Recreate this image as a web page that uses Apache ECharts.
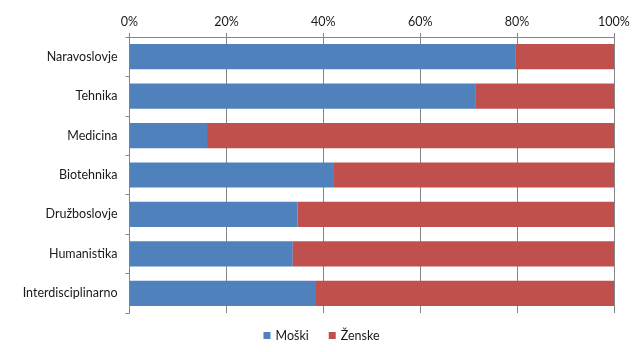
<!DOCTYPE html>
<html>
<head>
<meta charset="utf-8">
<script src="https://cdn.jsdelivr.net/npm/echarts@6/dist/echarts.min.js"></script>
<style>
  html, body { margin: 0; padding: 0; background: #fff; }
  #chart { width: 643px; height: 352px; }
</style>
</head>
<body>
<div id="chart"></div>
<script>
// podatki (delež v %)
const categories = ['Naravoslovje', 'Tehnika', 'Medicina', 'Biotehnika', 'Družboslovje', 'Humanistika', 'Interdisciplinarno']
const moski = [79.6, 71.5, 16.0, 42.2, 34.7, 33.7, 38.3]
const zenske = moski.map(v => +(100 - v).toFixed(1))
const seriesNames = ['Moški', 'Ženske']
const colors = ['#4F81BD', '#C0504D']

const chart = echarts.init(document.getElementById('chart'))

const textStyle = {
  fontFamily: 'Lato, "Open Sans", sans-serif',
  fontSize: 12.5,
  color: '#1a1a1a'
}

const option = {
  animation: false,
  color: colors,
  textStyle: textStyle,
  grid: {
    left: 129.5,
    right: 29,
    top: 37,
    bottom: 39
  },
  legend: {
    bottom: 5,
    left: 'center',
    icon: 'rect',
    itemWidth: 7,
    itemHeight: 7,
    itemGap: 20,
    textStyle: textStyle,
    data: seriesNames
  },
  xAxis: {
    type: 'value',
    position: 'top',
    min: 0,
    max: 100,
    interval: 20,
    axisLine: {
      show: true,
      lineStyle: { color: '#868686' }
    },
    axisTick: {
      show: true,
      length: 4,
      lineStyle: { color: '#868686' }
    },
    axisLabel: {
      formatter: '{value}%',
      margin: 9,
      fontFamily: textStyle.fontFamily,
      fontSize: 12.5,
      color: '#1a1a1a'
    },
    splitLine: {
      show: true,
      lineStyle: { color: '#868686', width: 1 }
    }
  },
  yAxis: {
    type: 'category',
    inverse: true,
    data: categories,
    axisLine: {
      show: true,
      lineStyle: { color: '#868686' }
    },
    axisTick: {
      show: true,
      length: 4,
      lineStyle: { color: '#868686' }
    },
    axisLabel: {
      margin: 12,
      fontFamily: textStyle.fontFamily,
      fontSize: 12.5,
      color: '#1a1a1a'
    }
  },
  series: [
    {
      name: seriesNames[0],
      type: 'bar',
      stack: 'total',
      barCategoryGap: '36%',
      data: moski
    },
    {
      name: seriesNames[1],
      type: 'bar',
      stack: 'total',
      barCategoryGap: '36%',
      data: zenske
    }
  ]
}

chart.setOption(option)
</script>
</body>
</html>
